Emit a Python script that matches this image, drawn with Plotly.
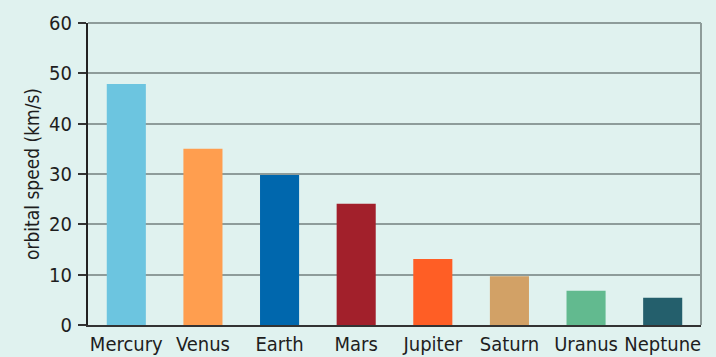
import plotly.graph_objects as go

planets = ["Mercury", "Venus", "Earth", "Mars", "Jupiter", "Saturn", "Uranus", "Neptune"]
speeds = [47.9, 35.0, 29.8, 24.1, 13.1, 9.7, 6.8, 5.4]
colors = ["#6cc5e0", "#ff9e4f", "#0067ad", "#a2202b", "#ff5e25", "#d2a166", "#62ba8f", "#245f6c"]
y_ticks = [0, 10, 20, 30, 40, 50, 60]

FONT = "DejaVu Sans Condensed, DejaVu Sans, sans-serif"
BG = "#e0f2ef"
GRID = "#8e9c9a"

fig = go.Figure(go.Bar(x=planets, y=speeds, marker=dict(color=colors, line=dict(width=0)), width=0.51))

fig.update_layout(
    width=716, height=357,
    margin=dict(l=88, r=15, t=23, b=32, autoexpand=False),
    paper_bgcolor=BG, plot_bgcolor=BG,
    font=dict(family=FONT, size=20, color="#1e1e1e"),
    showlegend=False,
    xaxis=dict(showline=True, linecolor="#333333", linewidth=2, showgrid=False, automargin=False,
               ticks="", tickfont=dict(size=20), ticklabelstandoff=0),
    yaxis=dict(range=[0, 60], tickvals=y_ticks, showline=True, linecolor="#222222", linewidth=2,
               showgrid=True, gridcolor=GRID, gridwidth=2, zeroline=False, automargin=False,
               ticks="outside", ticklen=8, tickwidth=2, tickcolor="#333333",
               tickfont=dict(size=20), ticklabelstandoff=2,
               title=dict(text="orbital speed (km/s)", font=dict(size=19), standoff=4)),
    shapes=[
        dict(type="line", xref="paper", yref="paper", x0=1, x1=1, y0=0, y1=1,
             line=dict(color=GRID, width=2)),
        dict(type="line", xref="paper", yref="paper", x0=0, x1=1, y0=1, y1=1,
             line=dict(color=GRID, width=2)),
    ],
)

fig.write_html("out.html", config={"displayModeBar": False},
               post_script="document.body.style.margin='0';document.body.style.background='" + BG + "';")
